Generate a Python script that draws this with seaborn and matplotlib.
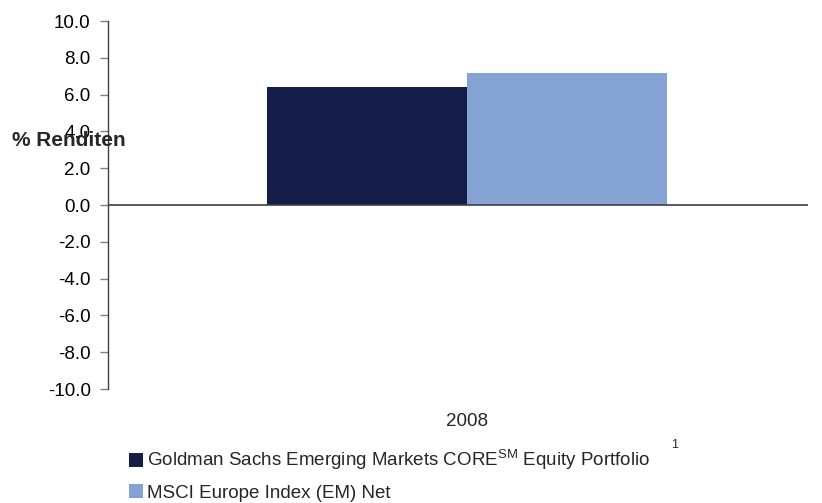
import matplotlib
matplotlib.use("Agg")
import matplotlib.pyplot as plt
import pandas as pd
import seaborn as sns
from matplotlib.ticker import FormatStrFormatter

years = ["2008"]
series = ["Goldman Sachs Emerging Markets CORE$^{\\mathrm{SM}}$ Equity Portfolio",
          "MSCI Europe Index (EM) Net"]
values = [6.4, 7.2]
colors = ["#151E48", "#84A3D4"]

df = pd.DataFrame({"year": years * len(series), "series": series, "value": values})

sns.set_style("white")
plt.rcParams['font.family'] = ['Liberation Sans', 'DejaVu Sans']
plt.rcParams['mathtext.fontset'] = 'custom'
plt.rcParams['mathtext.rm'] = 'Liberation Sans'

fig = plt.figure(figsize=(8.22, 5.03), dpi=100)
ax = fig.add_axes([0.1314, 0.2266, 0.8516, 0.7316])

sns.barplot(data=df, x="year", y="value", hue="series", palette=colors,
            width=0.8, gap=0, saturation=1, ax=ax, edgecolor="none")

handles, labels = ax.get_legend_handles_labels()
ax.legend_.remove()

ax.set_ylim(-10, 10)
ax.set_xlim(-0.718, 0.682)
ax.set_yticks(range(-10, 11, 2))
ax.yaxis.set_major_formatter(FormatStrFormatter('%.1f'))
ax.axhline(0, color="#404040", lw=1.2, zorder=3)

for s in ["top", "right", "bottom"]:
    ax.spines[s].set_visible(False)
ax.spines["left"].set_color("#404040")
ax.spines["left"].set_linewidth(1)

ax.tick_params(axis="y", left=True, length=5.5, width=1, color="#808080",
               labelsize=13.5, labelcolor="black", pad=7)
ax.tick_params(axis="x", bottom=False, labelsize=13.5, pad=14)
ax.set_xlabel("")
ax.set_ylabel("")

# axis title sits over the 4.0 label, as in the original
fig.text(0.014, 0.720, "% Renditen", fontsize=15, fontweight="bold",
         ha="left", va="center")

fig.legend(handles, labels, loc="upper left", bbox_to_anchor=(0.157, 0.110),
           bbox_transform=fig.transFigure, frameon=False, fontsize=13.5,
           handlelength=0.75, handleheight=0.75, handletextpad=0.2,
           labelspacing=0.62, borderaxespad=0, borderpad=0)
fig.text(0.821, 0.115, "1", fontsize=9, ha="center", va="center")

fig.savefig("out.png", dpi=100)
